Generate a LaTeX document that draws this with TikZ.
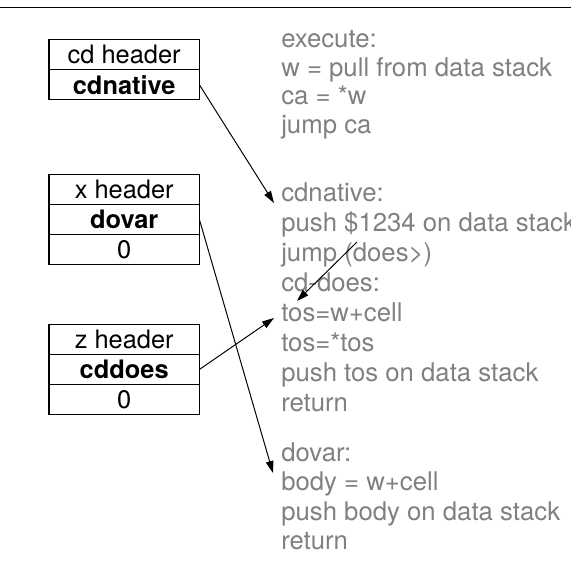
\documentclass[tikz,border=0pt]{standalone}
\usepackage{fontspec}
\setmainfont{TeX Gyre Heros}
\usetikzlibrary{positioning, calc, arrows.meta}

\tikzset{
    cell/.style={draw, line width=0.8pt, minimum width=3.76cm, minimum height=0.757cm,
        inner sep=0pt, outer sep=0pt, font=\fontsize{18.07}{21}\selectfont},
    code/.style={anchor=base west, inner sep=0pt, text=black!50,
        font=\fontsize{18.3}{21}\selectfont},
    link/.style={-{Triangle[length=0.3cm, width=0.19cm]}, line width=0.7pt},
}

\begin{document}
\begin{tikzpicture}[x=0.25cm, y=0.25cm]
    \useasboundingbox (0,0) rectangle (57.1,-57.6);
    \draw[line width=0.8pt] (0,-0.75) -- (57.1,-0.75);

    % cd word
    \node[cell] (cdhead) at (12.42,-5.45) {cd header};
    \node[cell, below=0pt of cdhead] (cdnat) {\textbf{cdnative}};

    % x word
    \node[cell] (xhead) at (12.42,-18.92) {x header};
    \node[cell, below=0pt of xhead] (xdovar) {\textbf{dovar}};
    \node[cell, below=0pt of xdovar] (xzero) {0};

    % z word
    \node[cell] (zhead) at (12.42,-33.92) {z header};
    \node[cell, below=0pt of zhead] (zdoes) {\textbf{cddoes}};
    \node[cell, below=0pt of zdoes] (zzero) {0};

    % code
    \foreach \txt [count=\i] in {execute:, {w = pull from data stack}, {ca = *w}, {jump ca}}
        \node[code] (ex\i) at (28.1, {-4.75-(\i-1)*2.85}) {\txt};
    \foreach \txt [count=\i] in {cdnative:, {push \$1234 on data stack}, {jump (does>)},
            cd-does:, tos=w+cell, tos=*tos, {push tos on data stack}, return}
        \node[code] (cn\i) at (28.1, {-20.1-(\i-1)*3.0}) {\txt};
    \foreach \txt [count=\i] in {dovar:, {body = w+cell}, {push body on data stack}, return}
        \node[code] (dv\i) at (28.1, {-46.1-(\i-1)*2.95}) {\txt};

    \coordinate (tipA) at (27.4,-20.3);
    \coordinate (tipB) at (27.3,-47.3);
    \coordinate (tipC) at (27.4,-31.8);
    \coordinate (tailD) at (35.7,-24.2);
    \coordinate (tipD) at (29.7,-30.1);

    \draw[link] (cdnat.east) -- (tipA);
    \draw[link] (xdovar.east) -- (tipB);
    \draw[link] (zdoes.east) -- (tipC);
    \draw[link] (tailD) -- (tipD);
\end{tikzpicture}
\end{document}
